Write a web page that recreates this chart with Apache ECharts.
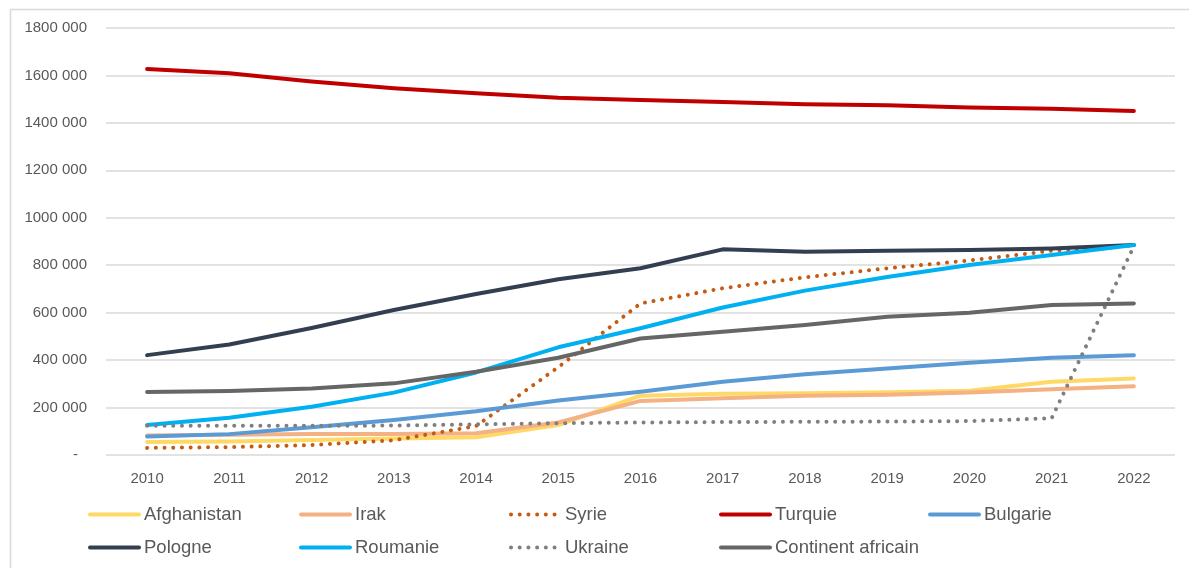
<!DOCTYPE html>
<html>
<head>
<meta charset="utf-8">
<script src="https://cdn.jsdelivr.net/npm/echarts@6/dist/echarts.min.js"></script>
<style>
  html, body { margin: 0; padding: 0; background: #ffffff; }
  #chart { width: 1189px; height: 568px; }
</style>
</head>
<body>
<div id="chart"></div>
<script>
// Years on the horizontal axis
const years = ['2010', '2011', '2012', '2013', '2014', '2015', '2016', '2017', '2018', '2019', '2020', '2021', '2022'];

// One array per origin group
const afghanistan = [55000, 57000, 63000, 70000, 75000, 126000, 250000, 258000, 260000, 264000, 271000, 309000, 323000];
const irak        = [82000, 85000, 89000, 89000, 92000, 137000, 228000, 239000, 250000, 254000, 263000, 277000, 290000];
const syrie       = [30000, 33000, 42000, 62000, 122000, 370000, 639000, 703000, 749000, 787000, 820000, 861000, 885000];
const turquie     = [1627000, 1609000, 1574000, 1546000, 1525000, 1506000, 1496000, 1488000, 1479000, 1474000, 1465000, 1460000, 1450000];
const bulgarie    = [78000, 88000, 117000, 148000, 184000, 230000, 267000, 309000, 340000, 365000, 389000, 410000, 420000];
const pologne     = [421000, 466000, 535000, 611000, 679000, 741000, 787000, 867000, 857000, 861000, 864000, 871000, 885000];
const roumanie    = [126000, 157000, 203000, 263000, 348000, 454000, 534000, 622000, 693000, 750000, 801000, 843000, 885000];
const ukraine     = [123000, 123000, 123000, 124000, 129000, 134000, 137000, 139000, 140000, 141000, 143000, 155000, 880000];
const continent   = [266000, 270000, 280000, 302000, 351000, 410000, 491000, 520000, 548000, 583000, 600000, 632000, 639000];

const seriesNames = ['Afghanistan', 'Irak', 'Syrie', 'Turquie', 'Bulgarie', 'Pologne', 'Roumanie', 'Ukraine', 'Continent africain'];
const seriesValues = [afghanistan, irak, syrie, turquie, bulgarie, pologne, roumanie, ukraine, continent];
const seriesColors = ['#FFD966', '#F4B183', '#C55A11', '#C00000', '#5B9BD5', '#333F50', '#00B0F0', '#7F7F7F', '#666666'];
const dottedSeries = ['Syrie', 'Ukraine'];

// Value axis bounds
const yMin = 0, yMax = 1800000, yStep = 200000;

const FONT = '"Liberation Sans", Arial, sans-serif';
const DOT_PATTERN = [0.01, 8.7];

function formatValue(v) {
  if (v === 0) return '{z|-}';
  const thousands = Math.floor(v / 1000);
  const rest = String(v % 1000).padStart(3, '0');
  return thousands + ' ' + rest;
}

const series = seriesNames.map((name, i) => {
  const dotted = dottedSeries.includes(name);
  return {
    name: name,
    type: 'line',
    data: seriesValues[i],
    symbol: 'none',
    smooth: false,
    color: seriesColors[i],
    lineStyle: {
      color: seriesColors[i],
      width: 4,
      type: dotted ? DOT_PATTERN : 'solid',
      cap: 'round',
      join: 'round'
    },
    emphasis: { disabled: true },
    animation: false
  };
});

// Legend laid out as a 5-column grid, two rows
const legendCols = [88, 299, 509, 719, 928];
const legendRows = [505, 538];
const legends = seriesNames.map((name, i) => {
  const dotted = dottedSeries.includes(name);
  return {
    data: [name],
    left: legendCols[i % 5],
    top: legendRows[Math.floor(i / 5)],
    padding: 0,
    itemWidth: 49,
    itemHeight: 4,
    itemGap: 0,
    selectedMode: false,
    itemStyle: { color: 'rgba(0,0,0,0)', borderWidth: 0 },
    lineStyle: {
      width: 4,
      type: dotted ? DOT_PATTERN : 'solid',
      cap: 'round'
    },
    textStyle: { fontFamily: FONT, fontSize: 18.5, color: '#595959' }
  };
});

const chart = echarts.init(document.getElementById('chart'), null, { renderer: 'canvas' });
chart.setOption({
  backgroundColor: '#ffffff',
  animation: false,
  graphic: [{
    type: 'rect',
    left: 8, top: 7,
    shape: { width: 1300, height: 700 },
    style: { fill: 'none', stroke: '#D9D9D9', lineWidth: 1.5 },
    silent: true,
    z: -10
  }],
  legend: legends,
  grid: { left: 106, right: 14, top: 28, bottom: 113, containLabel: false },
  xAxis: {
    type: 'category',
    data: years,
    boundaryGap: true,
    axisLine: { show: false },
    axisTick: { show: false },
    axisLabel: { fontFamily: FONT, fontSize: 15, color: '#595959', margin: 16 }
  },
  yAxis: {
    type: 'value',
    min: yMin, max: yMax, interval: yStep,
    axisLine: { show: false },
    axisTick: { show: false },
    splitLine: { lineStyle: { color: '#D9D9D9', width: 1.5 } },
    axisLabel: {
      fontFamily: FONT, fontSize: 15, color: '#595959', margin: 19,
      formatter: formatValue,
      rich: { z: { fontFamily: FONT, fontSize: 15, color: '#595959', padding: [0, 9, 0, 0] } }
    }
  },
  series: series
});
</script>
</body>
</html>
